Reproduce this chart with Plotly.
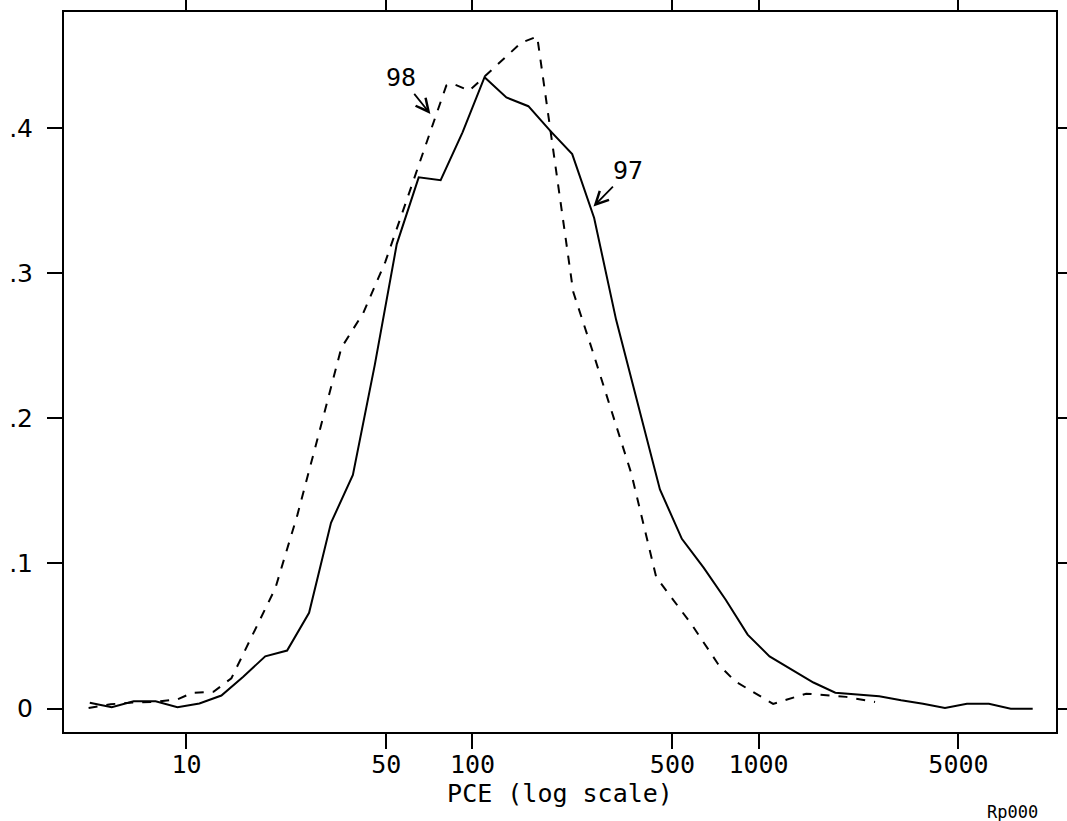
import math
import plotly.graph_objects as go

# ---- data ----
pce_97 = [4.593, 5.481, 6.538, 7.801, 9.305, 11.10, 13.25, 15.80, 18.86, 22.49,
          26.84, 32.02, 38.19, 45.57, 54.37, 64.87, 77.40, 92.32, 110.2, 131.4,
          156.8, 187.1, 223.2, 266.3, 317.7, 379.0, 452.2, 539.5, 643.7, 767.9,
          916.2, 1093, 1304, 1556, 1856, 2214, 2642, 3152, 3760, 4486,
          5353, 6386, 7618, 9089]
share_97 = [0.004, 0.001, 0.005, 0.005, 0.001, 0.0035, 0.009, 0.022, 0.036, 0.040,
            0.066, 0.128, 0.161, 0.237, 0.320, 0.366, 0.364, 0.397, 0.435, 0.421,
            0.415, 0.398, 0.382, 0.338, 0.268, 0.209, 0.151, 0.117, 0.097, 0.075,
            0.051, 0.036, 0.027, 0.018, 0.011, 0.010, 0.0085, 0.0057, 0.0034, 0.0004,
            0.0034, 0.0034, 0.0, 0.0]

pce_98 = [4.55, 5.43, 6.51, 7.79, 9.30, 10.50, 12.43, 14.36, 20.46, 24.42,
          29.15, 34.79, 41.53, 49.58, 81.00, 85.03, 97.45, 148.1, 168.4, 225.0,
          262.2, 358.8, 438.8, 586.1, 722.6, 828.6, 1125, 1467, 2023, 2555]
share_98 = [0.0005, 0.003, 0.0043, 0.0047, 0.0064, 0.0109, 0.0116, 0.0209, 0.083, 0.1333,
            0.1906, 0.2485, 0.2726, 0.3078, 0.4292, 0.4306, 0.4257, 0.4588, 0.463, 0.2871,
            0.2471, 0.1623, 0.0906, 0.0575, 0.0306, 0.0188, 0.0033, 0.0103, 0.0081, 0.0046]

x_tickvals = [10, 50, 100, 500, 1000, 5000]
x_ticktext = ["10", "50", "100", "500", "1000", "5000"]
y_tickvals = [0, 0.1, 0.2, 0.3, 0.4]
y_ticktext = ["0", ".1", ".2", ".3", ".4"]

label_names = ["98", "97"]
label_points = [(71.25, 0.4097), (264.9, 0.3459)]

FONT = "DejaVu Sans Mono"

fig = go.Figure()
fig.add_trace(go.Scatter(x=pce_97, y=share_97, mode="lines",
                         line=dict(color="black", width=2), showlegend=False))
fig.add_trace(go.Scatter(x=pce_98, y=share_98, mode="lines",
                         line=dict(color="black", width=2, dash="9px,9px"),
                         showlegend=False))

offsets = [(-29, -36), (35, -36)]
for name, (px, py), (ax, ay) in zip(label_names, label_points, offsets):
    fig.add_annotation(x=math.log10(px), y=py, xref="x", yref="y",
                       text=name, showarrow=True, arrowhead=5, arrowsize=1.4,
                       arrowwidth=1.8, arrowcolor="black", ax=ax, ay=ay,
                       standoff=0,
                       font=dict(family=FONT, size=25, color="black"))

fig.add_annotation(x=1.0, y=0, xref="paper", yref="paper",
                   xanchor="right", yanchor="top", xshift=-16, yshift=-68,
                   text="Rp000", showarrow=False,
                   font=dict(family=FONT, size=17, color="black"))

fig.update_xaxes(type="log", range=[0.572, 4.040],
                 tickvals=x_tickvals, ticktext=x_ticktext,
                 ticks="outside", ticklen=15, tickwidth=2, tickcolor="black",
                 showline=True, linewidth=2, linecolor="black", mirror="ticks",
                 showgrid=False, zeroline=False,
                 tickfont=dict(family=FONT, size=25, color="black"),
                 ticklabelstandoff=-6,
                 title=dict(text="PCE (log scale)", standoff=3,
                            font=dict(family=FONT, size=25, color="black")))
fig.update_yaxes(range=[-0.0161, 0.4799],
                 tickvals=y_tickvals, ticktext=y_ticktext,
                 ticks="outside", ticklen=15, tickwidth=2, tickcolor="black",
                 showline=True, linewidth=2, linecolor="black", mirror="ticks",
                 showgrid=False, zeroline=False,
                 tickfont=dict(family="DejaVu Sans", size=25, color="black"),
                 ticklabelstandoff=9)

fig.update_layout(width=1067, height=821,
                  margin=dict(l=64, r=11, t=12, b=89, autoexpand=False),
                  plot_bgcolor="white", paper_bgcolor="white",
                  font=dict(family=FONT, color="black"))

fig.write_html("out.html",
               config={"displayModeBar": False},
               post_script="document.body.style.margin='0px';document.body.style.overflow='hidden';")
